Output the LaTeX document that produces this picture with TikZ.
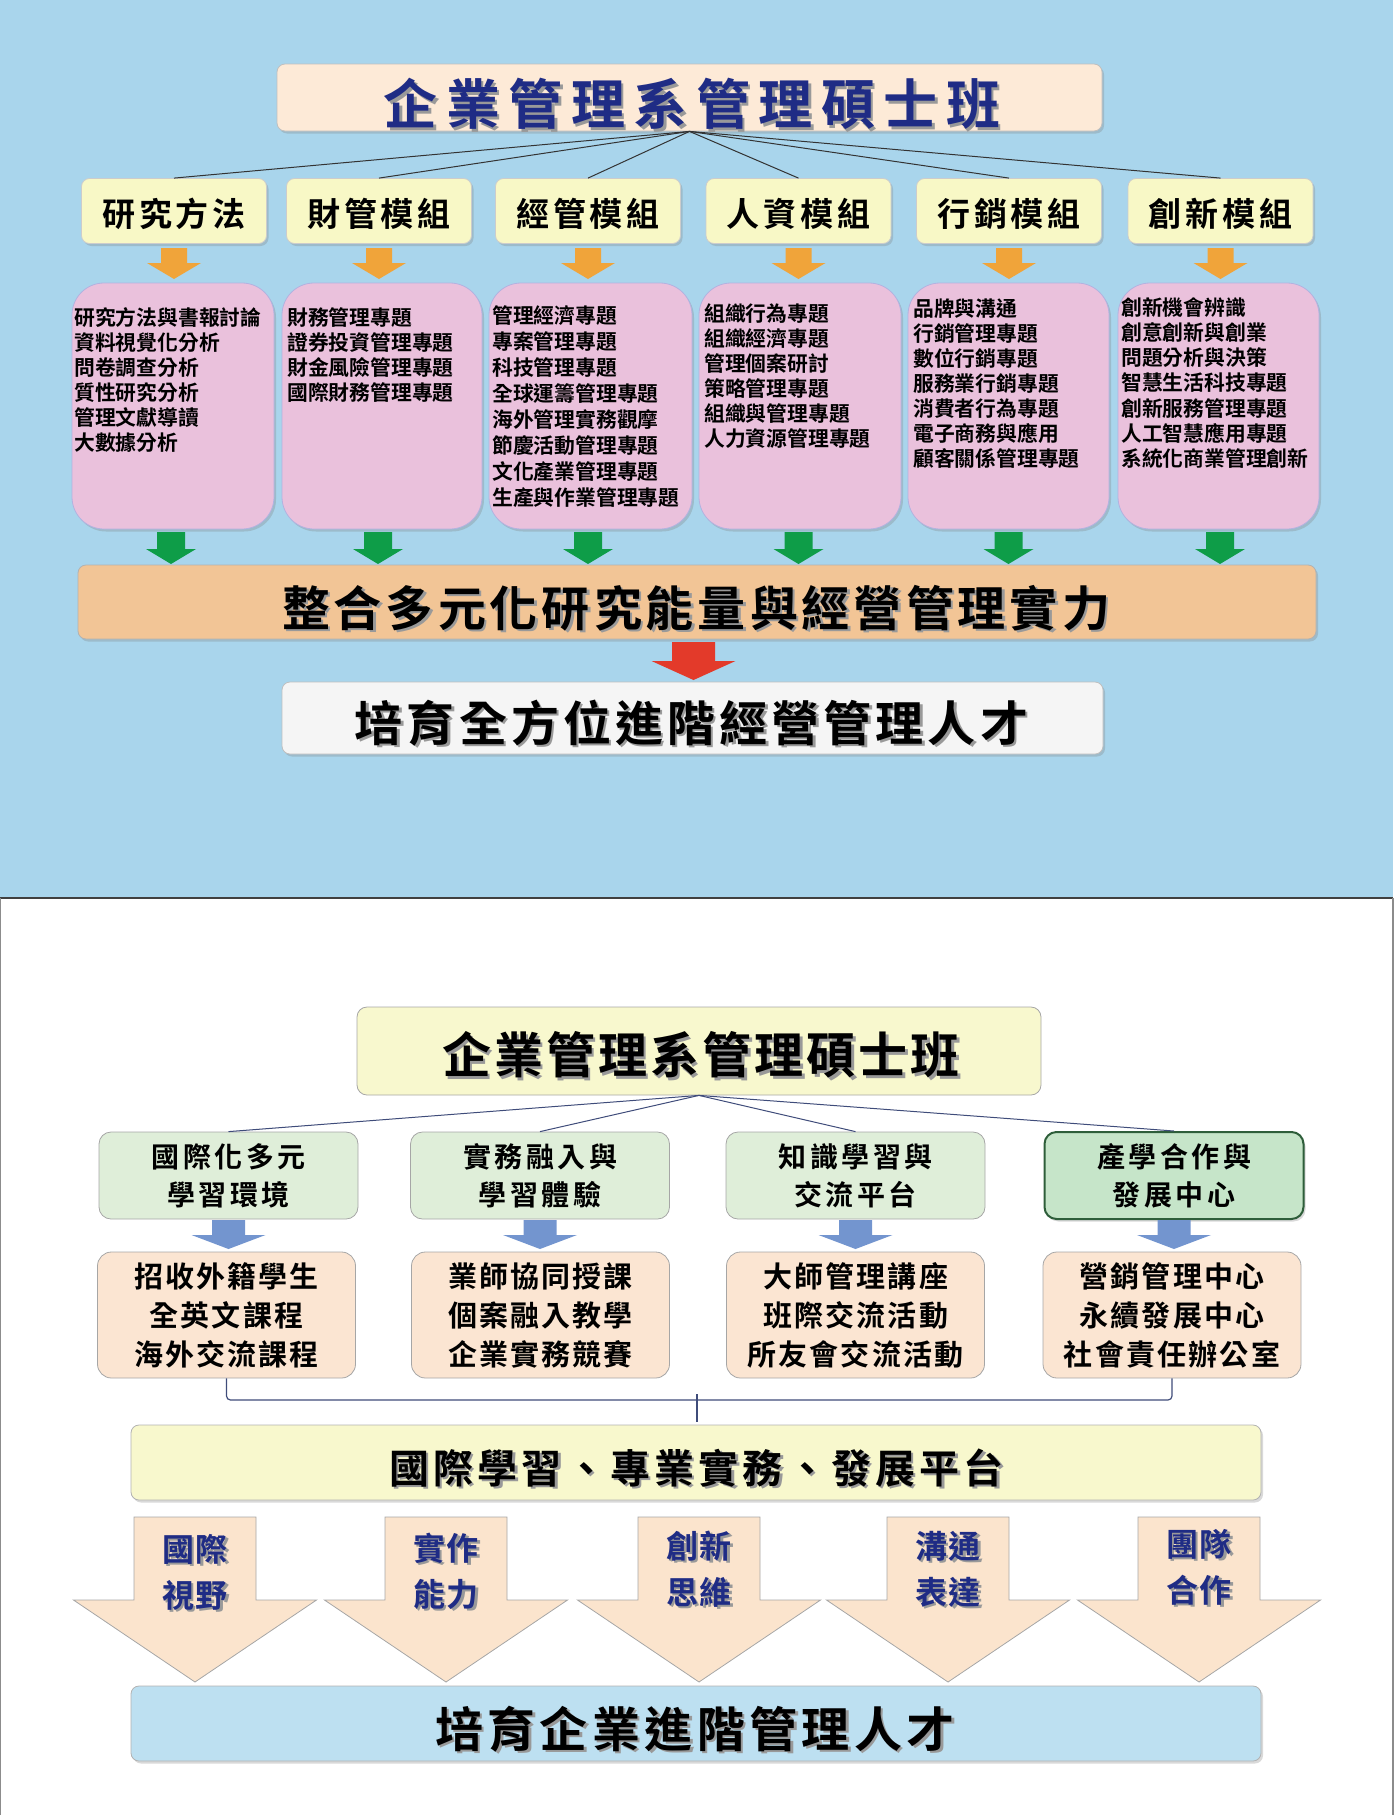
\documentclass[tikz,border=0pt]{standalone}
\usepackage{fontspec}
\setmainfont{Noto Sans CJK TC Bold}
\usetikzlibrary{shadows}
\definecolor{topblue}{HTML}{A9D5EC}
\definecolor{titlefill}{HTML}{FDEAD7}
\definecolor{navyc}{HTML}{1F2C85}
\definecolor{modfill}{HTML}{F8F8C6}
\definecolor{orangearr}{HTML}{F0A43A}
\definecolor{pinkfill}{HTML}{EAC1DC}
\definecolor{greenarr}{HTML}{0E9D48}
\definecolor{orangebar}{HTML}{F2C596}
\definecolor{redarr}{HTML}{E33A2A}
\definecolor{whitebox}{HTML}{F5F5F5}
\definecolor{btitle}{HTML}{F8F8CE}
\definecolor{greenbox}{HTML}{DFEED9}
\definecolor{greenboxb}{HTML}{C6E5C9}
\definecolor{greenedge}{HTML}{2E5E3A}
\definecolor{bluearr}{HTML}{7395CF}
\definecolor{peachc}{HTML}{FBE5D2}
\definecolor{bracecol}{HTML}{3F4C7A}
\definecolor{ybarc}{HTML}{F8F8CD}
\definecolor{bigarr}{HTML}{FBE4CD}
\definecolor{bbarc}{HTML}{BDE0F1}
\makeatletter
\newcommand\lsp[2]{\def\lsp@gap{#1}\lsp@first#2\relax}
\def\lsp@first#1{#1\lsp@rest}
\def\lsp@rest#1{\ifx\relax#1\else\hspace*{\lsp@gap}#1\expandafter\lsp@rest\fi}
\makeatother
\newcommand\darr[7]{\path[#7] ({#1-#5/2},#2) -- ({#1+#5/2},#2) -- ({#1+#5/2},#3) -- ({#1+#6/2},#3) -- (#1,#4) -- ({#1-#6/2},#3) -- ({#1-#5/2},#3) -- cycle;}
\newcommand\stxt[4]{\node[inner sep=0pt,#3,text=black!40,xshift=2.5pt,yshift=-2.5pt] (#1s) at #2 {#4};\node[inner sep=0pt,#3] (#1) at #2 {#4};}
\begin{document}
\begin{tikzpicture}[x=1pt,y=-1pt,
  box/.style={draw, rounded corners=8pt, inner sep=0pt, line width=0.8pt},
  shd/.style={drop shadow={shadow xshift=2pt, shadow yshift=-2.5pt, opacity=0.3}},
  modbox/.style={box, shd, fill=modfill, draw=black!20, minimum width=185pt, minimum height=65pt},
  modtxt/.style={inner sep=0pt, font={\fontsize{33}{38}\selectfont}},
  pinkbox/.style={box, shd, fill=pinkfill, draw=black!40!blue!30, rounded corners=32pt, minimum height=246pt},
  listtxt/.style={inner sep=0pt, anchor=north west, align=left, font={\fontsize{20.8}{25}\selectfont}},
  linec/.style={draw=black!80, line width=1pt},
  gbox/.style={box, fill=greenbox, draw=black!35, rounded corners=12pt, minimum width=259pt, minimum height=87pt, align=center, font={\fontsize{28}{38}\selectfont}},
  pbox/.style={box, fill=peachc, draw=black!35, rounded corners=14pt, minimum width=258pt, minimum height=126pt, align=center, font={\fontsize{29}{39}\selectfont}},
  bigtxt/.style={align=center, text=navyc, font={\fontsize{32}{46}\selectfont}}
]
\useasboundingbox (0,0) rectangle (1393,1815);
\fill[topblue] (0,0) rectangle (1393,898);
\draw[line width=2pt, black!75] (0,898) -- (1393,898);
\draw[line width=2pt, black!45] (0,898) -- (0,1815) (1393,898) -- (1393,1815);

% ---------- top chart ----------
\node[box, shd, fill=titlefill, draw=black!25, minimum width=825pt, minimum height=67pt] (T) at (689.5,97.5) {};
\stxt{Tt}{(692,104)}{font={\fontsize{54}{62}\selectfont}, text=navyc}{\lsp{8.5pt}{企業管理系管理碩士班}}

\node[modbox] (m1) at (174,211) {};
\node[modbox] (m2) at (379,211) {};
\node[modbox] (m3) at (588,211) {};
\node[modbox] (m4) at (798.5,211) {};
\node[modbox] (m5) at (1009,211) {};
\node[modbox] (m6) at (1220.5,211) {};
\node[modtxt] (m1t) at (174,214) {\lsp{3.7pt}{研究方法}};
\node[modtxt] (m2t) at (379,214) {\lsp{3.7pt}{財管模組}};
\node[modtxt] (m3t) at (588,214) {\lsp{3.7pt}{經管模組}};
\node[modtxt] (m4t) at (798.5,214) {\lsp{3.7pt}{人資模組}};
\node[modtxt] (m5t) at (1009,214) {\lsp{3.7pt}{行銷模組}};
\node[modtxt] (m6t) at (1220.5,214) {\lsp{3.7pt}{創新模組}};
\foreach \n in {1,...,6} \draw[linec] (T.south) -- (m\n.north);

\foreach \x in {174,379,588,798.5,1009,1220.5} {\darr{\x}{248}{263}{279}{26}{54}{fill=orangearr}}

\node[pinkbox, minimum width=202pt] (p1) at (173,406) {};
\node[pinkbox, minimum width=200pt] (p2) at (382,406) {};
\node[pinkbox, minimum width=203pt] (p3) at (590.5,406) {};
\node[pinkbox, minimum width=202pt] (p4) at (800,406) {};
\node[pinkbox, minimum width=201pt] (p5) at (1008.5,406) {};
\node[pinkbox, minimum width=201pt] (p6) at (1218.5,406) {};
\node[listtxt] (p1t) at (74,307) {研究方法與書報討論\\資料視覺化分析\\問卷調查分析\\質性研究分析\\管理文獻導讀\\大數據分析};
\node[listtxt] (p2t) at (287,307) {財務管理專題\\證券投資管理專題\\財金風險管理專題\\國際財務管理專題};
\node[listtxt, font={\fontsize{20.8}{26}\selectfont}] (p3t) at (492,305) {管理經濟專題\\專案管理專題\\科技管理專題\\全球運籌管理專題\\海外管理實務觀摩\\節慶活動管理專題\\文化產業管理專題\\生產與作業管理專題};
\node[listtxt] (p4t) at (704,303) {組織行為專題\\組織經濟專題\\管理個案研討\\策略管理專題\\組織與管理專題\\人力資源管理專題};
\node[listtxt] (p5t) at (913,299) {品牌與溝通\\行銷管理專題\\數位行銷專題\\服務業行銷專題\\消費者行為專題\\電子商務與應用\\顧客關係管理專題};
\node[listtxt, font={\fontsize{20.8}{25.3}\selectfont}] (p6t) at (1121,297) {創新機會辨識\\創意創新與創業\\問題分析與決策\\智慧生活科技專題\\創新服務管理專題\\人工智慧應用專題\\系統化商業管理創新};

\foreach \x in {171,378,588,798.5,1008.5,1220} {\darr{\x}{532}{549}{564}{28}{50}{fill=greenarr}}

\node[box, shd, fill=orangebar, draw=black!30, minimum width=1238pt, minimum height=74pt] (O) at (697,602) {};
\stxt{Ot}{(696,608)}{font={\fontsize{48}{56}\selectfont}}{\lsp{4pt}{整合多元化研究能量與經營管理實力}}

\darr{693.5}{642}{661}{680}{43}{84}{fill=redarr}

\node[box, shd, fill=whitebox, draw=black!25, minimum width=821pt, minimum height=72pt] (W) at (692.5,718) {};
\stxt{Wt}{(691.5,723)}{font={\fontsize{48}{56}\selectfont}}{\lsp{4.1pt}{培育全方位進階經營管理人才}}

% ---------- bottom chart ----------
\node[box, fill=btitle, draw=black!35, rounded corners=10pt, minimum width=684pt, minimum height=88pt] (B) at (699,1051) {};
\stxt{Bt}{(701,1055)}{font={\fontsize{49}{58}\selectfont}}{\lsp{3.1pt}{企業管理系管理碩士班}}

\node[gbox] (g1) at (228.5,1175.5) {\lsp{3.5pt}{國際化多元}\\\lsp{3.5pt}{學習環境}};
\node[gbox] (g2) at (540,1175.5) {\lsp{3.5pt}{實務融入與}\\\lsp{3.5pt}{學習體驗}};
\node[gbox] (g3) at (855.5,1175.5) {\lsp{3.5pt}{知識學習與}\\\lsp{3.5pt}{交流平台}};
\node[gbox, shd, fill=greenboxb, draw=greenedge, line width=2pt] (g4) at (1174,1175.5) {\lsp{3.5pt}{產學合作與}\\\lsp{3.5pt}{發展中心}};
\foreach \n in {1,...,4} \draw[draw=bracecol, line width=1pt] (B.south) -- (g\n.north);

\foreach \x in {228.5,540,855.5,1174} {\darr{\x}{1220}{1235}{1249}{33}{74}{fill=bluearr}}

\node[pbox] (q1) at (226.5,1315) {\lsp{2.2pt}{招收外籍學生}\\\lsp{2.2pt}{全英文課程}\\\lsp{2.2pt}{海外交流課程}};
\node[pbox] (q2) at (540.5,1315) {\lsp{2.2pt}{業師協同授課}\\\lsp{2.2pt}{個案融入教學}\\\lsp{2.2pt}{企業實務競賽}};
\node[pbox] (q3) at (855.5,1315) {\lsp{2.2pt}{大師管理講座}\\\lsp{2.2pt}{班際交流活動}\\\lsp{2.2pt}{所友會交流活動}};
\node[pbox] (q4) at (1172,1315) {\lsp{2.2pt}{營銷管理中心}\\\lsp{2.2pt}{永續發展中心}\\\lsp{2.2pt}{社會責任辦公室}};

\node[box, shd, fill=ybarc, draw=black!30, minimum width=1130pt, minimum height=75pt] (Y) at (696,1462.5) {};
\stxt{Yt}{(696.5,1468)}{font={\fontsize{40}{48}\selectfont}}{\lsp{4.2pt}{國際學習、專業實務、發展平台}}

\coordinate (bm) at (697,1400);
\draw[bracecol, line width=1.2pt, rounded corners=4pt] (q1.south) |- (bm) -| (q4.south);
\draw[bracecol, line width=1.2pt] ([yshift=6pt]bm) -- ([yshift=3pt]Y.north -| bm);

\foreach \x in {195,446,699,948,1199} {\darr{\x}{1517}{1600}{1682}{122}{243}{fill=bigarr, draw=black!35, line width=0.8pt}}
\stxt{a1}{(195,1572)}{bigtxt}{\lsp{2pt}{國際}\\\lsp{2pt}{視野}}
\stxt{a2}{(446,1571)}{bigtxt}{\lsp{2pt}{實作}\\\lsp{2pt}{能力}}
\stxt{a3}{(699,1569)}{bigtxt}{\lsp{2pt}{創新}\\\lsp{2pt}{思維}}
\stxt{a4}{(948,1569)}{bigtxt}{\lsp{2pt}{溝通}\\\lsp{2pt}{表達}}
\stxt{a5}{(1199,1567)}{bigtxt}{\lsp{2pt}{團隊}\\\lsp{2pt}{合作}}

\node[box, shd, fill=bbarc, draw=black!30, minimum width=1130pt, minimum height=75pt] (BB) at (696,1723.5) {};
\stxt{BBt}{(695,1729)}{font={\fontsize{48}{56}\selectfont}}{\lsp{4.4pt}{培育企業進階管理人才}}
\end{tikzpicture}
\end{document}
